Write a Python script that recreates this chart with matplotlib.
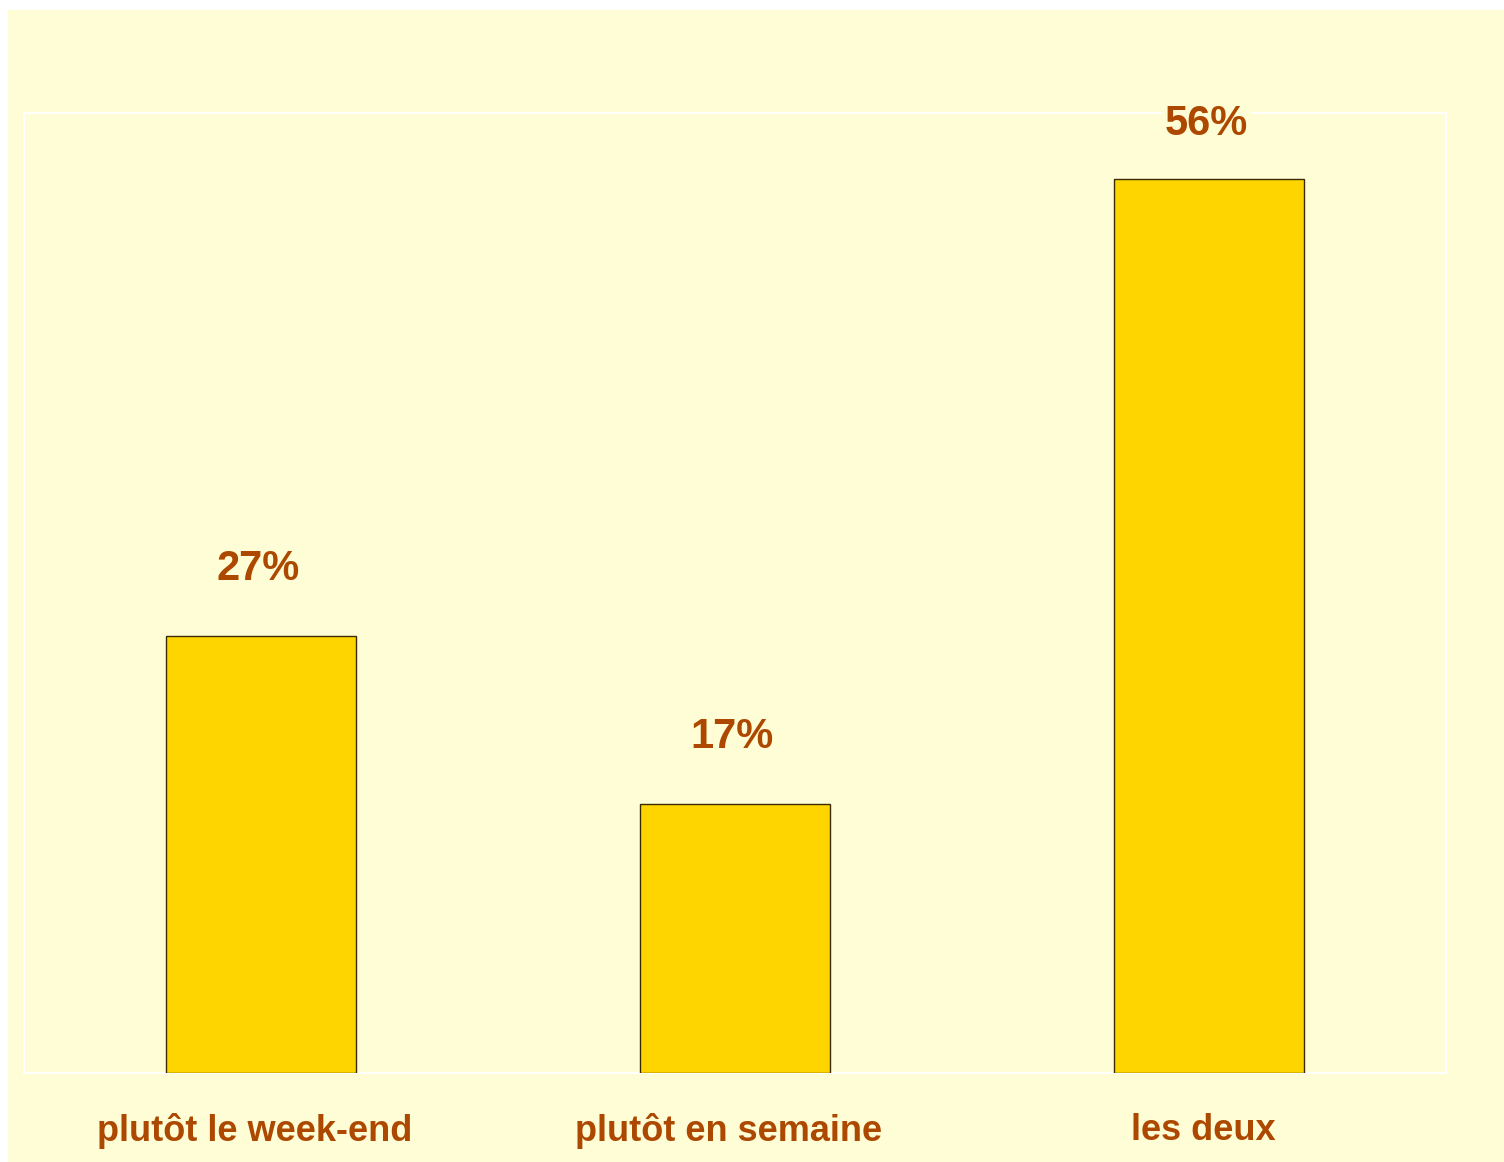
import matplotlib
matplotlib.use("Agg")
import matplotlib.pyplot as plt
from matplotlib.patches import Rectangle
from matplotlib.transforms import ScaledTranslation

categories = ["plutôt le week-end", "plutôt en semaine", "les deux"]
values = [27.3, 16.8, 55.9]
labels = ["27%", "17%", "56%"]

W, H = 1504, 1162
cream = "#FFFDD5"
brown = "#AD4800"
gold = "#FFD500"

fig = plt.figure(figsize=(W / 100, H / 100), dpi=100)
fig.patch.set_facecolor("white")
fig.patches.append(Rectangle((8 / W, 0), 1 - 8 / W, 1 - 10 / H, transform=fig.transFigure,
                             facecolor=cream, edgecolor="none", zorder=-10))

ax = fig.add_axes([24 / W, 1 - 1073 / H, (1446 - 24) / W, (1073 - 113) / H])
ax.set_facecolor(cream)
for s in ax.spines.values():
    s.set_color("white")
    s.set_linewidth(1.5)

x = list(range(len(categories)))
bars = ax.bar(x, values, width=0.4, color=gold, edgecolor="#3a2a00", linewidth=1.0, zorder=3)
ax.set_xlim(-0.5, 2.5)
ax.set_ylim(0, 60)
ax.set_yticks([])
ax.set_xticks(x)
ax.set_xticklabels(categories, fontsize=26, fontweight="bold", color=brown,
                   family="Liberation Sans")
ax.tick_params(axis="x", length=0, pad=29)
shift = ScaledTranslation(-6 / 100, 0, fig.dpi_scale_trans)
for t in ax.get_xticklabels():
    t.set_transform(t.get_transform() + shift)

ymax = ax.get_ylim()[1]
px_per_unit = (1073 - 113) / ymax
for xi, v, lab in zip(x, values, labels):
    dist_top_px = (ymax - v) * px_per_unit
    off_px = min(67, dist_top_px - 11)
    ax.annotate(lab, (xi, v), xytext=(-2, off_px * 0.72), textcoords="offset points",
                ha="center", va="center", fontsize=30, fontweight="bold", color=brown,
                family="Liberation Sans", annotation_clip=False,
                bbox=dict(facecolor=cream, edgecolor="none", pad=2))

fig.savefig("out.png", dpi=100, facecolor=fig.get_facecolor())
